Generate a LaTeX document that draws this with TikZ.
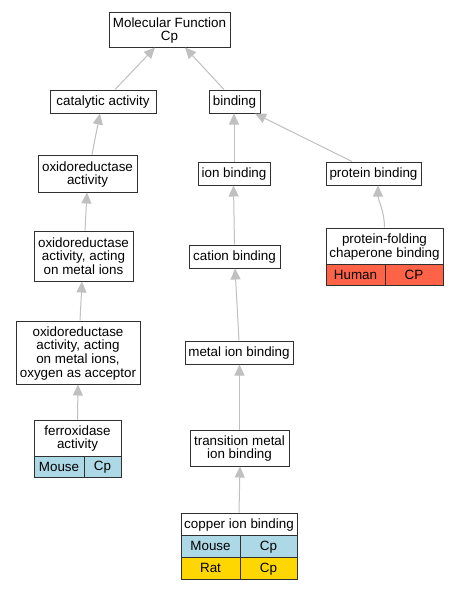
\documentclass[tikz,border=0pt]{standalone}
\usepackage{fontspec}
\setmainfont{Liberation Sans}
\usetikzlibrary{arrows.meta,calc}
\definecolor{edgegray}{HTML}{C0C0C0}
\definecolor{boxline}{HTML}{303030}
\definecolor{mouseblue}{HTML}{ADD8E6}
\definecolor{ratgold}{HTML}{FFD700}
\definecolor{humanred}{HTML}{FF6347}
\newcommand\gotxt[1]{\setbox\strutbox\hbox{\vrule height 11.4pt depth 1.9pt width 0pt}%
  \begin{tabular}{@{}c@{}}#1\end{tabular}}
\begin{document}
\begin{tikzpicture}[x=1pt,y=-1pt,
  gobox/.style={draw=boxline,line width=1pt,fill=white,inner sep=0pt,
    font=\fontsize{13.4}{13.3}\selectfont,text=black},
  cell/.style={gobox},
  isa/.style={draw=edgegray,line width=1pt,-{Triangle[length=11pt,width=10pt]}}
]
\useasboundingbox (0,0) rectangle (457,589);
\fill[white] (0,0) rectangle (457,589);

% nodes
\node[gobox,minimum width=121pt,minimum height=35pt] (mf) at (169.5,29.5) {\gotxt{Molecular Function\\Cp}};
\node[gobox,minimum width=106pt,minimum height=23pt] (cat) at (103,101.5) {\gotxt{catalytic activity}};
\node[gobox,minimum width=51pt,minimum height=23pt] (bind) at (234.5,101.5) {\gotxt{binding}};
\node[gobox,minimum width=99pt,minimum height=37pt] (oxa) at (87.5,173.5) {\gotxt{oxidoreductase\\activity}};
\node[gobox,minimum width=72pt,minimum height=23pt] (ionb) at (234,173.5) {\gotxt{ion binding}};
\node[gobox,minimum width=95pt,minimum height=23pt] (protb) at (373.5,173.5) {\gotxt{protein binding}};
\node[gobox,minimum width=99pt,minimum height=50pt] (oxm) at (83.5,256) {\gotxt{oxidoreductase\\activity, acting\\on metal ions}};
\node[gobox,minimum width=91pt,minimum height=23pt] (catb) at (234.5,256.5) {\gotxt{cation binding}};
\node[gobox,minimum width=117pt,minimum height=36pt] (pfc) at (384.5,246) {\gotxt{protein-folding\\chaperone binding}};
\node[cell,fill=humanred,minimum width=59pt,minimum height=21pt] (pfch) at (355.5,274.5) {\gotxt{Human}};
\node[cell,fill=humanred,minimum width=58pt,minimum height=21pt] (pfcc) at (414,274.5) {\gotxt{CP}};
\node[gobox,minimum width=124pt,minimum height=63pt] (oxo) at (78,352.5) {\gotxt{oxidoreductase\\activity, acting\\on metal ions,\\oxygen as acceptor}};
\node[gobox,minimum width=108pt,minimum height=23pt] (metb) at (239,352.5) {\gotxt{metal ion binding}};
\node[gobox,minimum width=87pt,minimum height=36pt] (ferr) at (77.5,438) {\gotxt{ferroxidase\\activity}};
\node[cell,fill=mouseblue,minimum width=50pt,minimum height=21pt] (ferrm) at (59,466.5) {\gotxt{Mouse}};
\node[cell,fill=mouseblue,minimum width=37pt,minimum height=21pt] (ferrc) at (102.5,466.5) {\gotxt{Cp}};
\node[gobox,minimum width=99pt,minimum height=36pt] (trans) at (239.5,448) {\gotxt{transition metal\\ion binding}};
\node[gobox,minimum width=116pt,minimum height=22pt] (cu) at (239,524) {\gotxt{copper ion binding}};
\node[cell,fill=mouseblue,minimum width=59pt,minimum height=22pt] (cum) at (210.5,546) {\gotxt{Mouse}};
\node[cell,fill=mouseblue,minimum width=57pt,minimum height=22pt] (cuc) at (268.5,546) {\gotxt{Cp}};
\node[cell,fill=ratgold,minimum width=59pt,minimum height=22pt] (cur) at (210.5,568) {\gotxt{Rat}};
\node[cell,fill=ratgold,minimum width=57pt,minimum height=22pt] (curc) at (268.5,568) {\gotxt{Cp}};

% edges (child -> parent)
\draw[isa] ([xshift=12pt]cat.north) -- ([xshift=-14.5pt]mf.south);
\draw[isa] ([xshift=-10.5pt]bind.north) -- ([xshift=15.5pt]mf.south);
\draw[isa] ([xshift=4.5pt]oxa.north) -- ([xshift=-3pt]cat.south);
\draw[isa] (ionb.north) -- ([xshift=-0.5pt]bind.south);
\draw[isa] ([xshift=-21.5pt]protb.north) -- ([xshift=20.5pt]bind.south);
\draw[isa] ([xshift=1.5pt]oxm.north) -- ([xshift=-0.5pt]oxa.south);
\draw[isa] (catb.north) -- ([xshift=-0.5pt]ionb.south);
\draw[isa] (pfc.north) .. controls ($(pfc.north)+(0,-16)$) and ($(protb.south)+(4.5,14)$) .. ([xshift=4.5pt]protb.south);
\draw[isa] ([xshift=2pt]oxo.north) -- ([xshift=-1.5pt]oxm.south);
\draw[isa] (ferr.north) -- (oxo.south);
\draw[isa] (metb.north) -- ([xshift=0.5pt]catb.south);
\draw[isa] (trans.north) -- ([xshift=0.5pt]metb.south);
\draw[isa] (cu.north) -- ([xshift=0.5pt]trans.south);
\end{tikzpicture}
\end{document}
